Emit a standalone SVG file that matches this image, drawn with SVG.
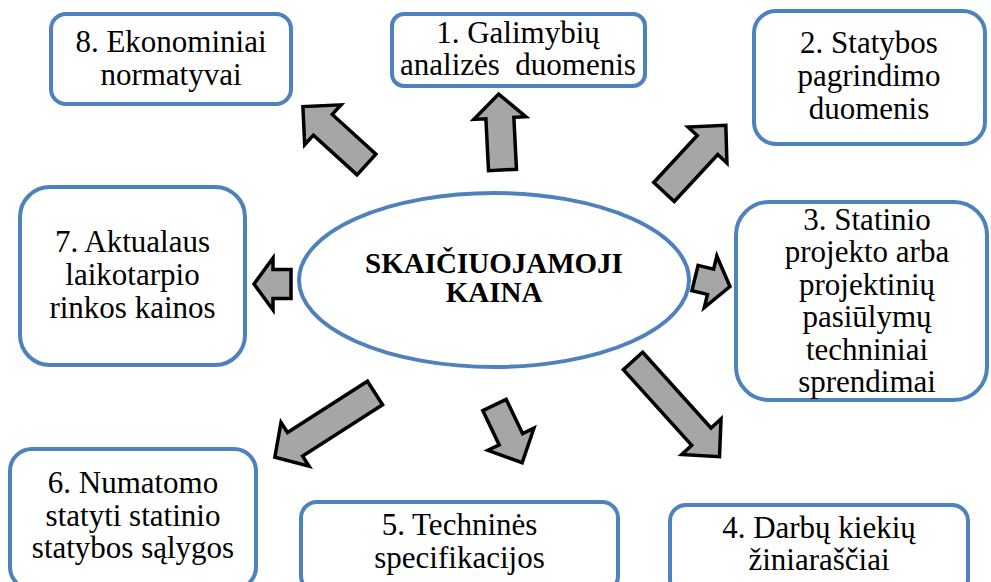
<svg xmlns="http://www.w3.org/2000/svg" width="991" height="582" viewBox="0 0 991 582">
<style>
.box{fill:#fff;stroke:#4f81bd;stroke-width:4}
text{font-size:31px;fill:#000;text-anchor:middle}
.b{font-weight:bold;font-size:29px}
.arr{fill:#a6a6a6;stroke:#000;stroke-width:3.5;stroke-linejoin:miter}
</style>
<rect width="991" height="582" fill="#fff"/>
<g font-family="Liberation Serif, Times New Roman, serif">
<g id="center">
<ellipse class="box" cx="494" cy="280" rx="195" ry="87"/>
<text class="b" x="494" y="273">SKAIČIUOJAMOJI</text>
<text class="b" x="494" y="302">KAINA</text>
</g>
<g id="n1">
<rect class="box" x="392" y="14" width="253" height="72" rx="12"/>
<text x="518" y="43">1. Galimybių</text>
<text x="518" y="75" xml:space="preserve">analizės  duomenis</text>
</g>
<g id="n2">
<rect class="box" x="754" y="11" width="231" height="133" rx="22"/>
<text x="869" y="53">2. Statybos</text>
<text x="869" y="86">pagrindimo</text>
<text x="869" y="118.5">duomenis</text>
</g>
<g id="n3">
<rect class="box" x="736" y="202" width="251" height="198" rx="33"/>
<text x="867" y="230">3. Statinio</text>
<text x="867" y="262.4">projekto arba</text>
<text x="867" y="294.8">projektinių</text>
<text x="867" y="327.2">pasiūlymų</text>
<text x="867" y="359.6">techniniai</text>
<text x="867" y="392">sprendimai</text>
</g>
<g id="n4">
<rect class="box" x="670" y="505" width="298" height="90" rx="16"/>
<text x="819" y="538">4. Darbų kiekių</text>
<text x="819" y="570">žiniaraščiai</text>
</g>
<g id="n5">
<rect class="box" x="301" y="502" width="317" height="90" rx="16"/>
<text x="459.5" y="535">5. Techninės</text>
<text x="459.5" y="568">specifikacijos</text>
</g>
<g id="n6">
<rect class="box" x="10" y="449" width="246" height="140" rx="22"/>
<text x="133" y="493">6. Numatomo</text>
<text x="133" y="525.5">statyti statinio</text>
<text x="133" y="558">statybos sąlygos</text>
</g>
<g id="n7">
<rect class="box" x="20" y="187" width="225" height="178" rx="30"/>
<text x="132.5" y="252">7. Aktualaus</text>
<text x="132.5" y="285">laikotarpio</text>
<text x="132.5" y="318">rinkos kainos</text>
</g>
<g id="n8">
<rect class="box" x="51" y="14" width="240" height="90" rx="15"/>
<text x="171" y="52">8. Ekonominiai</text>
<text x="171" y="85">normatyvai</text>
</g>
</g>
<g id="connectors">
<polygon class="arr" transform="translate(502.5,170) rotate(-92.9)" points="0,-14 52,-14 52,-26 76,0 52,26 52,14 0,14"/>
<polygon class="arr" transform="translate(664,192) rotate(-47.2)" points="0,-14 64,-14 64,-26.5 91,0 64,26.5 64,14 0,14"/>
<polygon class="arr" transform="translate(695,278) rotate(13.7)" points="0,-13 16,-13 16,-26.5 36,0 16,26.5 16,13 0,13"/>
<polygon class="arr" transform="translate(633,361) rotate(47.9)" points="0,-13 102,-13 102,-26.5 129,0 102,26.5 102,13 0,13"/>
<polygon class="arr" transform="translate(494.5,405) rotate(64.4)" points="0,-13 38,-13 38,-25.5 64,0 38,25.5 38,13 0,13"/>
<polygon class="arr" transform="translate(375,393) rotate(147.3)" points="0,-14 95,-14 95,-26 119,0 95,26 95,14 0,14"/>
<polygon class="arr" transform="translate(291,284) rotate(180)" points="0,-14.5 18,-14.5 18,-26 37,0 18,26 18,14.5 0,14.5"/>
<polygon class="arr" transform="translate(366.5,164.5) rotate(-137.7)" points="0,-14 59,-14 59,-27 86,0 59,27 59,14 0,14"/>
</g>
</svg>
